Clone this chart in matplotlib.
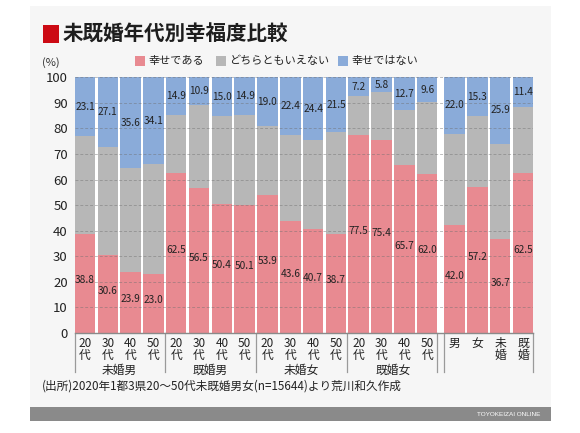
import matplotlib
matplotlib.use("Agg")
import matplotlib.pyplot as plt
from matplotlib.patches import Rectangle
import matplotlib.transforms as mtransforms

plt.rcParams['font.family'] = ['Noto Sans CJK JP', 'DejaVu Sans']

# ---- data ----
tick_labels = ["20\n代", "30\n代", "40\n代", "50\n代",
               "20\n代", "30\n代", "40\n代", "50\n代",
               "20\n代", "30\n代", "40\n代", "50\n代",
               "20\n代", "30\n代", "40\n代", "50\n代",
               "男", "女", "未\n婚", "既\n婚"]
group_labels = ["未婚男", "既婚男", "未婚女", "既婚女"]
series_names = ["幸せである", "どちらともいえない", "幸せではない"]
happy = [38.8, 30.6, 23.9, 23.0, 62.5, 56.5, 50.4, 50.1, 53.9, 43.6, 40.7, 38.7,
         77.5, 75.4, 65.7, 62.0, 42.0, 57.2, 36.7, 62.5]
neutral = [38.1, 42.3, 40.5, 42.9, 22.6, 32.6, 34.6, 35.0, 27.1, 34.0, 34.9, 39.8,
           15.3, 18.8, 21.6, 28.4, 36.0, 27.5, 37.4, 26.1]
unhappy = [23.1, 27.1, 35.6, 34.1, 14.9, 10.9, 15.0, 14.9, 19.0, 22.4, 24.4, 21.5,
           7.2, 5.8, 12.7, 9.6, 22.0, 15.3, 25.9, 11.4]

colors = ['#e88a91', '#b7b7b7', '#8aabd9']

W, H = 580, 433
fig = plt.figure(figsize=(W / 100, H / 100), dpi=100)
fig.patch.set_facecolor('white')

def fx(x):
    return x / W

def fy(y):
    return 1 - y / H

# card background
fig.patches.append(Rectangle((fx(30), fy(421)), 521 / W, 415 / H, transform=fig.transFigure,
                             facecolor='#f6f6f6', edgecolor='none', zorder=-10))
# footer
fig.patches.append(Rectangle((fx(30), fy(421)), 521 / W, 14 / H, transform=fig.transFigure,
                             facecolor='#8a8a8a', edgecolor='none', zorder=-5))
fig.text(fx(540), fy(414), "TOYOKEIZAI ONLINE", ha='right', va='center', color='white',
         fontsize=4.6, family=['Liberation Sans Narrow', 'Liberation Sans', 'DejaVu Sans'])

# title
fig.patches.append(Rectangle((fx(43), fy(43)), 16 / W, 18 / H, transform=fig.transFigure,
                             facecolor='#cc0a14', edgecolor='none'))
fig.text(fx(63), fy(34), "未既婚年代別幸福度比較", ha='left', va='center', fontsize=14.8,
         fontweight='bold', color='#1e1e1e')

# legend
leg_sq = [135, 216, 338]
for name, c, x0 in zip(series_names, colors, leg_sq):
    fig.patches.append(Rectangle((fx(x0), fy(66)), 10 / W, 10 / H, transform=fig.transFigure,
                                 facecolor=c, edgecolor='none'))
    fig.text(fx(x0 + 13), fy(61), name, ha='left', va='center', fontsize=8, color='#222222')

fig.text(fx(42), fy(63), "(%)", ha='left', va='center', fontsize=8, color='#333333')

# axes
ax = fig.add_axes([fx(74.7), fy(332.7), (533.3 - 74.7) / W, (332.7 - 77.4) / H])
ax.set_facecolor('white')
pos = [i if i < 16 else i + 0.2 for i in range(len(happy))]
bw = 0.9
bottoms2 = [a + b for a, b in zip(happy, neutral)]
ax.bar(pos, happy, width=bw, color=colors[0], zorder=2)
ax.bar(pos, neutral, width=bw, bottom=happy, color=colors[1], zorder=2)
ax.bar(pos, unhappy, width=bw, bottom=bottoms2, color=colors[2], zorder=2)

ax.set_xlim(pos[0] - bw / 2, pos[-1] + bw / 2)
ax.set_ylim(0, 100)
for s in ax.spines.values():
    s.set_visible(False)

for y in range(10, 101, 10):
    ax.axhline(y, color='#6f6f6f', lw=0.7, ls=(0, (3, 2)), alpha=0.45, zorder=3)

ax.set_yticks(range(0, 101, 10))
ax.tick_params(axis='y', length=0, pad=5, labelsize=9.5, labelcolor='#222222')
ax.set_xticks(pos)
ax.set_xticklabels(tick_labels, fontsize=8.5, linespacing=0.95, color='#222222')
ax.tick_params(axis='x', length=0, pad=3)

# value labels
for x, h, n, u in zip(pos, happy, neutral, unhappy):
    ax.text(x, h / 2 + 1.2, f"{h:.1f}", ha='center', va='center', fontsize=7.3,
            color='#222222', zorder=4)
    ax.text(x, h + n + u / 2, f"{u:.1f}", ha='center', va='center', fontsize=7.3,
            color='#222222', zorder=4)

# baseline and separators
ax.axhline(0, color='#8a8a8a', lw=1.0, zorder=4, clip_on=False)
trans = mtransforms.blended_transform_factory(ax.transData, ax.transAxes)
seps = [pos[0] - bw / 2, 3.5, 7.5, 11.5, pos[15] + bw / 2, pos[16] - bw / 2, pos[-1] + bw / 2]
for sx in seps:
    ax.plot([sx, sx], [0, -0.155], transform=trans, color='#9a9a9a', lw=0.9, clip_on=False)

for gi, g in enumerate(group_labels):
    cx = (pos[gi * 4] + pos[gi * 4 + 3]) / 2
    ax.text(cx, -0.146, g, transform=trans, ha='center', va='center', fontsize=8.5,
            color='#222222')

# source
fig.text(fx(42), fy(386), "(出所)2020年1都3県20～50代未既婚男女(n=15644)より荒川和久作成",
         ha='left', va='center', fontsize=8.4, color='#222222')

fig.savefig("out.png", dpi=100)
